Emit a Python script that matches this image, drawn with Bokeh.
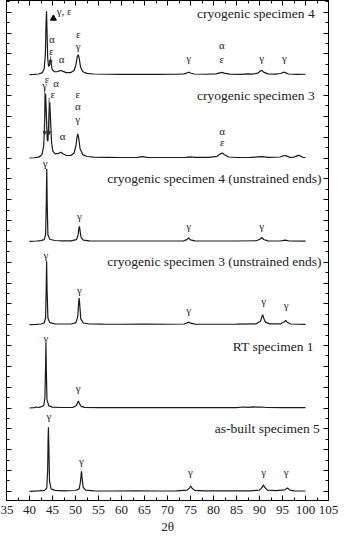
from bokeh.plotting import figure
from bokeh.models import Range1d, LinearAxis, SingleIntervalTicker, Arrow, NormalHead, CustomJSTickFormatter, Title
from bokeh.core.properties import value
from bokeh.embed import file_html
from bokeh.resources import INLINE

# ---- data: (2theta, relative intensity above the pattern baseline) ----
cryo4 = [(40.0, 0.0), (41.0, 0.003), (42.0, 0.008), (42.8, 0.025), (43.2, 0.07), (43.45, 0.25),
         (43.6, 0.62), (43.7, 0.76), (43.8, 0.55), (43.95, 0.20), (44.15, 0.10), (44.35, 0.11),
         (44.55, 0.19), (44.7, 0.13), (44.95, 0.06), (45.4, 0.035), (46.0, 0.035), (46.5, 0.045),
         (46.9, 0.05), (47.3, 0.04), (48.0, 0.025), (49.0, 0.025), (49.7, 0.05), (50.1, 0.12),
         (50.4, 0.22), (50.6, 0.24), (50.8, 0.20), (51.1, 0.09), (51.6, 0.035), (52.5, 0.015),
         (54.0, 0.008), (57.0, 0.005), (60.0, 0.004), (64.0, 0.004), (68.0, 0.003), (72.0, 0.005),
         (73.6, 0.01), (74.3, 0.022), (74.6, 0.03), (75.0, 0.02), (75.8, 0.008), (78.0, 0.005),
         (80.5, 0.01), (81.4, 0.022), (81.8, 0.027), (82.3, 0.018), (83.5, 0.006), (86.0, 0.004),
         (87.5, 0.01), (88.5, 0.006), (89.6, 0.018), (90.2, 0.045), (90.5, 0.052), (90.9, 0.03),
         (91.8, 0.01), (93.5, 0.006), (94.6, 0.014), (95.2, 0.03), (95.6, 0.025), (96.3, 0.008),
         (98.0, 0.004), (100.0, 0.005)]

cryo3 = [(40.0, 0.0), (41.0, 0.003), (42.0, 0.01), (42.7, 0.04), (43.1, 0.15), (43.35, 0.55),
         (43.5, 0.77), (43.65, 0.55), (43.85, 0.22), (44.0, 0.2), (44.2, 0.45), (44.4, 0.67),
         (44.55, 0.5), (44.8, 0.18), (45.1, 0.08), (45.6, 0.05), (46.3, 0.055), (46.8, 0.07),
         (47.3, 0.05), (48.0, 0.03), (49.0, 0.03), (49.7, 0.06), (50.1, 0.15), (50.35, 0.26),
         (50.5, 0.29), (50.7, 0.24), (51.0, 0.11), (51.6, 0.04), (52.5, 0.018), (54.0, 0.01),
         (57.0, 0.008), (60.0, 0.006), (63.5, 0.008), (64.5, 0.016), (65.5, 0.007), (70.0, 0.006),
         (74.0, 0.008), (74.8, 0.014), (76.0, 0.007), (79.0, 0.008), (80.8, 0.02), (81.5, 0.05),
         (81.9, 0.06), (82.4, 0.04), (83.3, 0.012), (85.0, 0.006), (88.0, 0.007), (90.5, 0.016),
         (92.0, 0.007), (94.5, 0.012), (95.3, 0.03), (95.8, 0.025), (96.6, 0.008), (97.5, 0.01),
         (98.4, 0.032), (98.9, 0.025), (99.4, 0.008), (100.0, 0.006)]

cryo4_ends = [(40.0, 0.0), (41.5, 0.004), (42.5, 0.008), (43.2, 0.02), (43.5, 0.08), (43.65, 0.45),
              (43.75, 0.87), (43.85, 0.45), (44.0, 0.08), (44.4, 0.025), (45.5, 0.01), (47.0, 0.006),
              (49.0, 0.006), (50.2, 0.02), (50.55, 0.07), (50.75, 0.16), (50.85, 0.18), (50.95, 0.14),
              (51.2, 0.05), (51.7, 0.015), (53.0, 0.006), (56.0, 0.004), (60.0, 0.004), (65.0, 0.004),
              (70.0, 0.004), (73.5, 0.006), (74.2, 0.02), (74.6, 0.04), (75.0, 0.018), (76.0, 0.006),
              (80.0, 0.004), (85.0, 0.004), (89.3, 0.007), (90.1, 0.025), (90.5, 0.048), (90.9, 0.022),
              (91.8, 0.006), (94.5, 0.004), (95.6, 0.015), (96.5, 0.004), (100.0, 0.003)]

cryo3_ends = [(40.0, 0.0), (41.5, 0.004), (42.5, 0.008), (43.2, 0.02), (43.5, 0.08), (43.62, 0.4),
              (43.72, 0.76), (43.82, 0.42), (44.0, 0.08), (44.4, 0.025), (45.5, 0.01), (47.0, 0.008),
              (49.0, 0.008), (50.1, 0.025), (50.5, 0.1), (50.7, 0.28), (50.8, 0.32), (50.92, 0.24),
              (51.15, 0.07), (51.7, 0.02), (53.0, 0.008), (56.0, 0.006), (60.0, 0.005), (65.0, 0.006),
              (70.0, 0.005), (73.6, 0.008), (74.3, 0.022), (74.6, 0.032), (75.0, 0.018), (76.0, 0.006),
              (80.0, 0.005), (85.0, 0.006), (89.3, 0.01), (90.2, 0.04), (90.55, 0.1), (90.7, 0.12),
              (90.9, 0.08), (91.3, 0.03), (92.2, 0.01), (94.6, 0.01), (95.4, 0.035), (95.7, 0.05),
              (96.0, 0.03), (96.8, 0.008), (100.0, 0.004)]

rt1 = [(40.0, 0.0), (41.0, 0.005), (41.5, 0.012), (42.0, 0.006), (42.6, 0.016), (43.1, 0.03),
       (43.35, 0.12), (43.48, 0.45), (43.57, 0.77), (43.66, 0.45), (43.8, 0.1), (44.2, 0.025),
       (45.0, 0.01), (47.0, 0.006), (49.5, 0.008), (50.2, 0.03), (50.55, 0.075), (50.65, 0.085),
       (50.8, 0.06), (51.2, 0.02), (52.0, 0.008), (55.0, 0.005), (60.0, 0.004), (65.0, 0.005),
       (70.0, 0.004), (75.0, 0.005), (80.0, 0.004), (85.0, 0.005), (86.5, 0.012), (87.5, 0.008),
       (88.5, 0.014), (89.5, 0.01), (90.5, 0.012), (91.5, 0.006), (95.0, 0.005), (100.0, 0.004)]

asbuilt5 = [(40.0, 0.0), (42.0, 0.005), (43.3, 0.012), (43.75, 0.04), (43.95, 0.25), (44.05, 0.65),
            (44.12, 0.77), (44.2, 0.55), (44.35, 0.12), (44.7, 0.03), (45.5, 0.012), (47.5, 0.006),
            (50.0, 0.01), (50.8, 0.03), (51.1, 0.12), (51.25, 0.22), (51.32, 0.24), (51.42, 0.17),
            (51.65, 0.05), (52.2, 0.015), (54.0, 0.006), (58.0, 0.004), (63.0, 0.005), (68.0, 0.004),
            (72.0, 0.006), (74.3, 0.014), (74.85, 0.045), (75.05, 0.065), (75.3, 0.04), (75.9, 0.012),
            (78.0, 0.006), (83.0, 0.005), (88.0, 0.006), (90.0, 0.015), (90.6, 0.05), (90.85, 0.08),
            (91.1, 0.05), (91.7, 0.015), (93.5, 0.008), (95.5, 0.018), (96.1, 0.04), (96.6, 0.015),
            (97.5, 0.006), (100.0, 0.004)]

# patterns from top to bottom, with their names
patterns = [cryo4, cryo3, cryo4_ends, cryo3_ends, rt1, asbuilt5]
names = ["cryogenic specimen 4", "cryogenic specimen 3",
         "cryogenic specimen 4 (unstrained ends)", "cryogenic specimen 3 (unstrained ends)",
         "RT specimen 1", "as-built specimen 5"]

# phase labels: (pattern index, 2theta, height above baseline, text)
phase_labels = [
    (0, 44.85, 0.43, "α"), (0, 44.75, 0.28, "ε"), (0, 47.0, 0.19, "α"),
    (0, 50.6, 0.49, "ε"), (0, 50.6, 0.34, "γ"),
    (0, 74.6, 0.20, "γ"), (0, 81.8, 0.36, "α"), (0, 81.8, 0.19, "ε"),
    (0, 90.5, 0.20, "γ"), (0, 95.4, 0.20, "γ"),
    (1, 43.8, 0.95, "ε"), (1, 43.3, 0.875, "γ"), (1, 45.8, 0.90, "α"), (1, 45.05, 0.77, "ε"),
    (1, 47.2, 0.26, "α"), (1, 50.5, 0.77, "ε"), (1, 50.5, 0.62, "α"), (1, 50.5, 0.47, "γ"),
    (1, 81.9, 0.32, "α"), (1, 81.9, 0.19, "ε"),
    (2, 43.4, 0.935, "γ"), (2, 50.85, 0.30, "γ"), (2, 74.6, 0.19, "γ"), (2, 90.5, 0.19, "γ"),
    (3, 43.55, 0.84, "γ"), (3, 50.85, 0.42, "γ"), (3, 74.6, 0.18, "γ"), (3, 90.9, 0.28, "γ"),
    (3, 95.8, 0.24, "γ"),
    (4, 43.55, 0.84, "γ"), (4, 50.6, 0.24, "γ"),
    (5, 44.2, 0.91, "γ"), (5, 51.3, 0.37, "γ"), (5, 75.0, 0.23, "γ"), (5, 90.9, 0.23, "γ"),
    (5, 95.8, 0.23, "γ"),
]
name_right = [102.0, 102.0, 103.5, 103.5, 101.8, 103.1]
name_height = [0.73, 0.755, 0.76, 0.76, 0.74, 0.755]

n = len(patterns)
SERIF = value("Liberation Serif")
Y0, Y1 = -0.11, 5.89

p = figure(width=338, height=534, x_range=Range1d(35, 105), y_range=Range1d(Y0, Y1),
           output_backend="svg", toolbar_location=None,
           min_border_left=6, min_border_right=10, min_border_top=0, min_border_bottom=0)
p.grid.visible = False
p.outline_line_color = "black"
p.outline_line_width = 1
p.background_fill_color = "white"
p.border_fill_color = "white"

blank = CustomJSTickFormatter(code="return ''")


def style_axis(ax, labels=True):
    ax.axis_line_color = "black"
    ax.major_tick_in = 5
    ax.major_tick_out = 0
    ax.minor_tick_in = 3
    ax.minor_tick_out = 0
    ax.major_tick_line_color = "black"
    ax.minor_tick_line_color = "black"
    if labels:
        ax.major_label_text_font = "Liberation Serif"
        ax.major_label_text_font_size = "13px"
        ax.major_label_text_color = "#222222"
    else:
        ax.formatter = blank
        ax.major_label_text_color = None
        ax.major_label_standoff = 0


p.xaxis.ticker = SingleIntervalTicker(interval=5, num_minor_ticks=2)
style_axis(p.xaxis[0])
p.xaxis.major_label_standoff = 5

p.yaxis.ticker = SingleIntervalTicker(interval=0.25, num_minor_ticks=2)
style_axis(p.yaxis[0], labels=False)

top = LinearAxis(ticker=SingleIntervalTicker(interval=5, num_minor_ticks=2))
style_axis(top, labels=False)
p.add_layout(top, "above")
right = LinearAxis(ticker=SingleIntervalTicker(interval=0.25, num_minor_ticks=2))
style_axis(right, labels=False)
p.add_layout(right, "right")

# x-axis title under the tick labels
p.add_layout(Title(text="2θ", align="center", text_font="Liberation Serif", text_font_size="13px",
                   text_font_style="normal", text_color="#222222", standoff=1, offset=0), "below")

for i, pts in enumerate(patterns):
    off = n - 1 - i
    xs = [a for a, b in pts]
    ys = [b + off for a, b in pts]
    p.line(xs, ys, line_color="#1a1a1a", line_width=1.2)

# phase labels
lx = [x for i, x, h, t in phase_labels]
ly = [h + (n - 1 - i) for i, x, h, t in phase_labels]
lt = [t for i, x, h, t in phase_labels]
p.text(x=lx, y=ly, text=lt, text_font=SERIF, text_font_size="11px", text_color="#222222",
       text_align="center", text_baseline="middle")

# gamma, epsilon marker on the top pattern
p.scatter(x=[45.2], y=[0.675 + n - 1], marker="triangle", size=6, color="black")
p.text(x=[45.9], y=[0.77 + n - 1], text=["γ, ε"], text_font=SERIF, text_font_size="11px",
       text_color="#222222", text_align="left", text_baseline="middle")

# arrows inside the cryogenic peaks
arrows = [(0, 44.6, 0.22, 0.13), (1, 43.3, 0.84, 0.28), (1, 44.25, 0.72, 0.28)]
for i, x, y0, y1 in arrows:
    off = n - 1 - i
    p.add_layout(Arrow(x_start=x, y_start=y0 + off, x_end=x, y_end=y1 + off,
                       line_color="#333333", line_width=0.8,
                       end=NormalHead(size=3, fill_color="#333333", line_color="#333333")))

# pattern names
p.text(x=name_right, y=[h + (n - 1 - i) for i, h in enumerate(name_height)], text=names,
       text_font=SERIF, text_font_size="13.5px", text_color="#222222",
       text_align="right", text_baseline="middle")

open("out.html", "w").write(file_html(p, INLINE))
